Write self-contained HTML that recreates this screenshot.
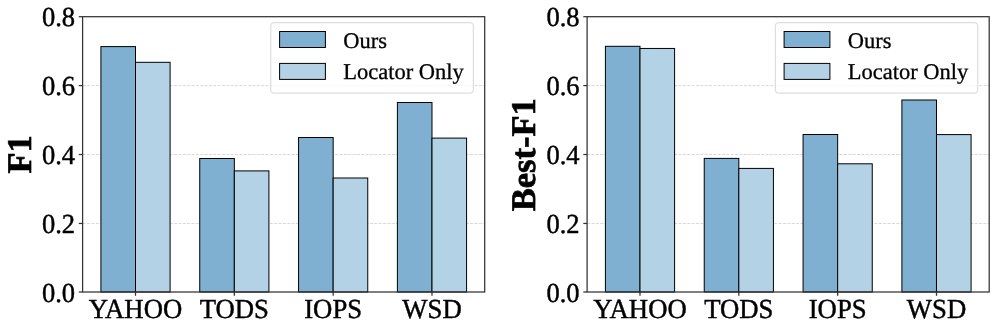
<!DOCTYPE html>
<html><head><meta charset="utf-8"><style>
html,body{margin:0;padding:0;background:#fff;width:997px;height:331px;overflow:hidden}
svg{display:block;will-change:transform}
text{font-family:"Liberation Serif",serif;fill:#000;text-rendering:geometricPrecision;stroke:#000;stroke-width:0.45px}
.lg{stroke-width:0.3px}
.lb{stroke-width:0.7px}
</style></head><body>
<svg width="997" height="331" viewBox="0 0 997 331">
<rect width="997" height="331" fill="#fff"/>
<line x1="82.60" y1="223.45" x2="484.70" y2="223.45" stroke="#d8d8d8" stroke-width="1" stroke-dasharray="3.04,1.314"/>
<line x1="82.60" y1="154.50" x2="484.70" y2="154.50" stroke="#d8d8d8" stroke-width="1" stroke-dasharray="3.04,1.314"/>
<line x1="82.60" y1="85.60" x2="484.70" y2="85.60" stroke="#d8d8d8" stroke-width="1" stroke-dasharray="3.04,1.314"/>
<rect x="100.91" y="46.60" width="34.59" height="245.40" fill="#7fb0d2" stroke="#000" stroke-width="1"/>
<rect x="135.50" y="62.30" width="34.59" height="229.70" fill="#b3d2e6" stroke="#000" stroke-width="1"/>
<rect x="199.74" y="158.50" width="34.59" height="133.50" fill="#7fb0d2" stroke="#000" stroke-width="1"/>
<rect x="234.33" y="170.90" width="34.59" height="121.10" fill="#b3d2e6" stroke="#000" stroke-width="1"/>
<rect x="298.57" y="137.50" width="34.59" height="154.50" fill="#7fb0d2" stroke="#000" stroke-width="1"/>
<rect x="333.16" y="178.00" width="34.59" height="114.00" fill="#b3d2e6" stroke="#000" stroke-width="1"/>
<rect x="397.40" y="102.50" width="34.59" height="189.50" fill="#7fb0d2" stroke="#000" stroke-width="1"/>
<rect x="431.99" y="138.10" width="34.59" height="153.90" fill="#b3d2e6" stroke="#000" stroke-width="1"/>
<rect x="82.60" y="16.70" width="402.10" height="275.30" fill="none" stroke="#333" stroke-width="1.25"/>
<line x1="78.80" y1="292.00" x2="82.60" y2="292.00" stroke="#333" stroke-width="1.25"/>
<text transform="translate(75.10,301.60) scale(0.965,1)" text-anchor="end" font-size="27.5">0.0</text>
<line x1="78.80" y1="223.45" x2="82.60" y2="223.45" stroke="#333" stroke-width="1.25"/>
<text transform="translate(75.10,233.05) scale(0.965,1)" text-anchor="end" font-size="27.5">0.2</text>
<line x1="78.80" y1="154.50" x2="82.60" y2="154.50" stroke="#333" stroke-width="1.25"/>
<text transform="translate(75.10,164.10) scale(0.965,1)" text-anchor="end" font-size="27.5">0.4</text>
<line x1="78.80" y1="85.60" x2="82.60" y2="85.60" stroke="#333" stroke-width="1.25"/>
<text transform="translate(75.10,95.20) scale(0.965,1)" text-anchor="end" font-size="27.5">0.6</text>
<line x1="78.80" y1="16.70" x2="82.60" y2="16.70" stroke="#333" stroke-width="1.25"/>
<text transform="translate(75.10,26.30) scale(0.965,1)" text-anchor="end" font-size="27.5">0.8</text>
<line x1="135.50" y1="292.00" x2="135.50" y2="295.80" stroke="#333" stroke-width="1.25"/>
<text transform="translate(135.50,317.8) scale(0.972,1)" text-anchor="middle" font-size="27.5">YAHOO</text>
<line x1="234.33" y1="292.00" x2="234.33" y2="295.80" stroke="#333" stroke-width="1.25"/>
<text transform="translate(234.33,317.8) scale(0.972,1)" text-anchor="middle" font-size="27.5">TODS</text>
<line x1="333.16" y1="292.00" x2="333.16" y2="295.80" stroke="#333" stroke-width="1.25"/>
<text transform="translate(333.16,317.8) scale(0.972,1)" text-anchor="middle" font-size="27.5">IOPS</text>
<line x1="431.99" y1="292.00" x2="431.99" y2="295.80" stroke="#333" stroke-width="1.25"/>
<text transform="translate(431.99,317.8) scale(0.972,1)" text-anchor="middle" font-size="27.5">WSD</text>
<text transform="translate(31.20,154.30) rotate(-90)" text-anchor="middle" font-size="34.5" font-weight="bold" class="lb">F1</text>
<rect x="270.80" y="22.70" width="202.50" height="70.40" rx="3" ry="3" fill="#fff" fill-opacity="0.8" stroke="#d6d6d6" stroke-width="1"/>
<rect x="279.60" y="31.5" width="45.8" height="16" fill="#7fb0d2" stroke="#000" stroke-width="1"/>
<rect x="279.60" y="63.4" width="45.8" height="16" fill="#b3d2e6" stroke="#000" stroke-width="1"/>
<text x="343.20" y="47.7" font-size="22.5" class="lg">Ours</text>
<text x="343.20" y="79.3" font-size="22.5" class="lg">Locator Only</text>
<line x1="587.10" y1="223.45" x2="989.20" y2="223.45" stroke="#d8d8d8" stroke-width="1" stroke-dasharray="3.04,1.314"/>
<line x1="587.10" y1="154.50" x2="989.20" y2="154.50" stroke="#d8d8d8" stroke-width="1" stroke-dasharray="3.04,1.314"/>
<line x1="587.10" y1="85.60" x2="989.20" y2="85.60" stroke="#d8d8d8" stroke-width="1" stroke-dasharray="3.04,1.314"/>
<rect x="605.41" y="46.30" width="34.59" height="245.70" fill="#7fb0d2" stroke="#000" stroke-width="1"/>
<rect x="640.00" y="48.45" width="34.59" height="243.55" fill="#b3d2e6" stroke="#000" stroke-width="1"/>
<rect x="704.24" y="158.40" width="34.59" height="133.60" fill="#7fb0d2" stroke="#000" stroke-width="1"/>
<rect x="738.83" y="168.40" width="34.59" height="123.60" fill="#b3d2e6" stroke="#000" stroke-width="1"/>
<rect x="803.07" y="134.50" width="34.59" height="157.50" fill="#7fb0d2" stroke="#000" stroke-width="1"/>
<rect x="837.66" y="163.80" width="34.59" height="128.20" fill="#b3d2e6" stroke="#000" stroke-width="1"/>
<rect x="901.90" y="100.00" width="34.59" height="192.00" fill="#7fb0d2" stroke="#000" stroke-width="1"/>
<rect x="936.49" y="134.60" width="34.59" height="157.40" fill="#b3d2e6" stroke="#000" stroke-width="1"/>
<rect x="587.10" y="16.70" width="402.10" height="275.30" fill="none" stroke="#333" stroke-width="1.25"/>
<line x1="583.30" y1="292.00" x2="587.10" y2="292.00" stroke="#333" stroke-width="1.25"/>
<text transform="translate(579.60,301.60) scale(0.965,1)" text-anchor="end" font-size="27.5">0.0</text>
<line x1="583.30" y1="223.45" x2="587.10" y2="223.45" stroke="#333" stroke-width="1.25"/>
<text transform="translate(579.60,233.05) scale(0.965,1)" text-anchor="end" font-size="27.5">0.2</text>
<line x1="583.30" y1="154.50" x2="587.10" y2="154.50" stroke="#333" stroke-width="1.25"/>
<text transform="translate(579.60,164.10) scale(0.965,1)" text-anchor="end" font-size="27.5">0.4</text>
<line x1="583.30" y1="85.60" x2="587.10" y2="85.60" stroke="#333" stroke-width="1.25"/>
<text transform="translate(579.60,95.20) scale(0.965,1)" text-anchor="end" font-size="27.5">0.6</text>
<line x1="583.30" y1="16.70" x2="587.10" y2="16.70" stroke="#333" stroke-width="1.25"/>
<text transform="translate(579.60,26.30) scale(0.965,1)" text-anchor="end" font-size="27.5">0.8</text>
<line x1="640.00" y1="292.00" x2="640.00" y2="295.80" stroke="#333" stroke-width="1.25"/>
<text transform="translate(640.00,317.8) scale(0.972,1)" text-anchor="middle" font-size="27.5">YAHOO</text>
<line x1="738.83" y1="292.00" x2="738.83" y2="295.80" stroke="#333" stroke-width="1.25"/>
<text transform="translate(738.83,317.8) scale(0.972,1)" text-anchor="middle" font-size="27.5">TODS</text>
<line x1="837.66" y1="292.00" x2="837.66" y2="295.80" stroke="#333" stroke-width="1.25"/>
<text transform="translate(837.66,317.8) scale(0.972,1)" text-anchor="middle" font-size="27.5">IOPS</text>
<line x1="936.49" y1="292.00" x2="936.49" y2="295.80" stroke="#333" stroke-width="1.25"/>
<text transform="translate(936.49,317.8) scale(0.972,1)" text-anchor="middle" font-size="27.5">WSD</text>
<text transform="translate(534.90,154.70) rotate(-90)" text-anchor="middle" font-size="34.5" font-weight="bold" class="lb">Best-F1</text>
<rect x="775.30" y="22.70" width="202.50" height="70.40" rx="3" ry="3" fill="#fff" fill-opacity="0.8" stroke="#d6d6d6" stroke-width="1"/>
<rect x="784.10" y="31.5" width="45.8" height="16" fill="#7fb0d2" stroke="#000" stroke-width="1"/>
<rect x="784.10" y="63.4" width="45.8" height="16" fill="#b3d2e6" stroke="#000" stroke-width="1"/>
<text x="847.70" y="47.7" font-size="22.5" class="lg">Ours</text>
<text x="847.70" y="79.3" font-size="22.5" class="lg">Locator Only</text>
</svg>
</body></html>
